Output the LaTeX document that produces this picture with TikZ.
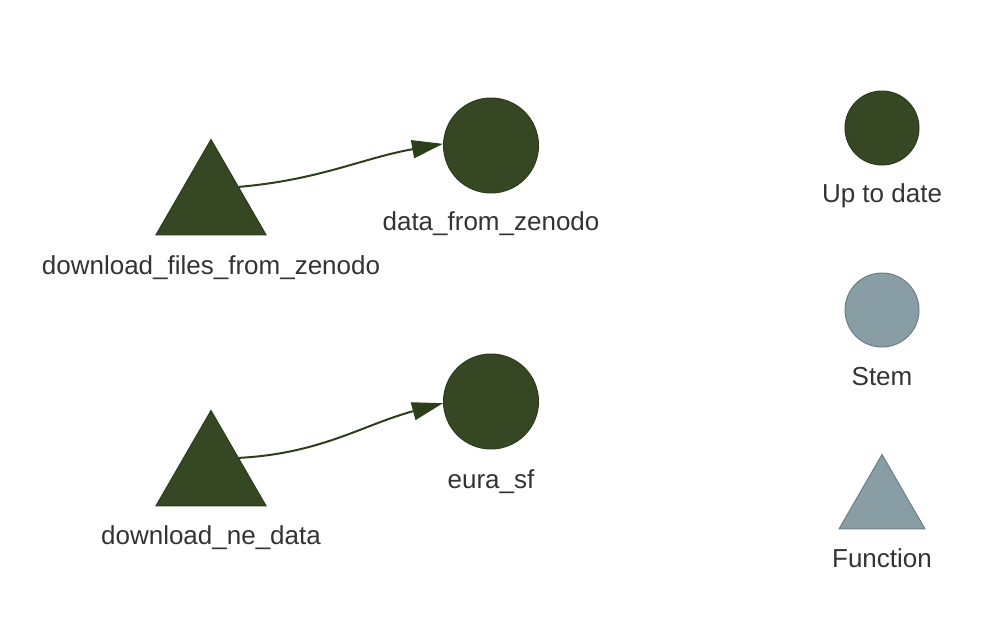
\documentclass[tikz,border=0pt]{standalone}
\usepackage{fontspec}
\setmainfont{Liberation Sans}
\usetikzlibrary{shapes.geometric,arrows.meta}

\definecolor{uptodate}{HTML}{354823}
\definecolor{uptodateline}{HTML}{2B3B1C}
\definecolor{stem}{HTML}{899DA4}
\definecolor{stemline}{HTML}{6C7F86}
\definecolor{edgecol}{HTML}{2C3F1A}
\definecolor{labelcol}{HTML}{333333}

\begin{document}
\begin{tikzpicture}[x = 1pt, y = 1pt, node distance = 280pt, line width = 1pt,
  every node/.style = {font = \fontsize{26}{31}\selectfont, text = labelcol},
  target/.style = {circle, draw = uptodateline, fill = uptodate, minimum size = 95pt, inner sep = 0pt},
  func/.style = {regular polygon, regular polygon sides = 3, draw = uptodateline, fill = uptodate,
                 minimum size = 127pt, inner sep = 0pt},
  edge/.style = {draw = edgecol, line width = 2pt, -{Triangle[length = 31pt, width = 18pt]}}]

  \useasboundingbox (0,0) rectangle (984,-624);

  % graph
  \node[func] at (211,-203) (dlz) {};
  \node[target, right of = dlz, yshift = 57.5pt] (dz) {};
  \node[func, below of = dlz, node distance = 271pt] (dne) {};
  \node[target, right of = dne, yshift = 72.5pt] (eura) {};

  \node[below of = dlz, node distance = 71pt, anchor = base] (dlzLabel) {download\_files\_from\_zenodo};
  \node[below of = dz, node distance = 84.5pt, anchor = base] (dzLabel) {data\_from\_zenodo};
  \node[below of = dne, node distance = 70pt, anchor = base] (dneLabel) {download\_ne\_data};
  \node[below of = eura, node distance = 86.5pt, anchor = base] (euraLabel) {eura\_sf};

  \draw[edge] (dlz.30) to[out = 5, in = 190] (dz.178);
  \draw[edge] (dne.30) to[out = 3, in = 195] (eura.182);

  % legend
  \node[target, minimum size = 74pt] at (882,-128) (up) {};
  \node[target, draw = stemline, fill = stem, minimum size = 74pt, below of = up, node distance = 182pt] (stem) {};
  \node[func, draw = stemline, fill = stem, minimum size = 99pt, below of = stem, node distance = 194pt] (fun) {};

  \node[below of = up, node distance = 74pt, anchor = base] (UpLabel) {Up to date};
  \node[below of = stem, node distance = 75pt, anchor = base] (StemLabel) {Stem};
  \node[below of = fun, node distance = 63pt, anchor = base] (FunLabel) {Function};

\end{tikzpicture}
\end{document}
